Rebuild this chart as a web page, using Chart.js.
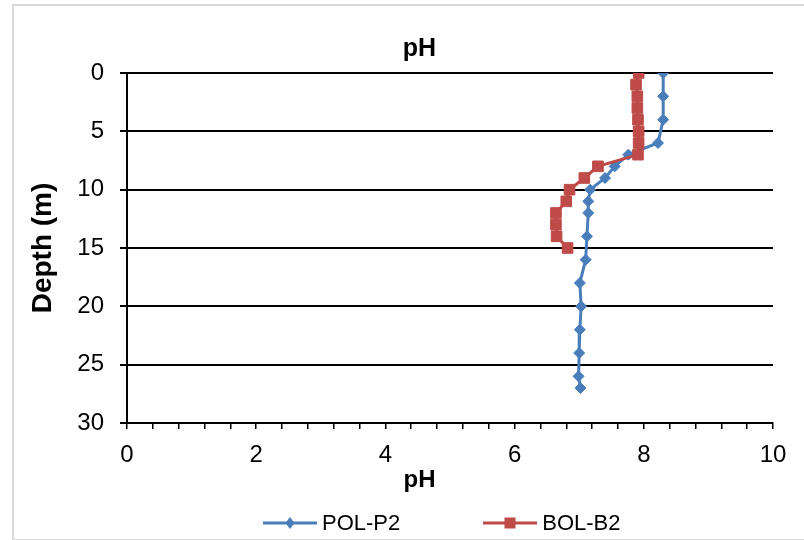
<!DOCTYPE html>
<html lang="en">
<head>
    <meta charset="UTF-8">
    <title>pH profile</title>
    <script src="https://cdn.jsdelivr.net/npm/chart.js@4.4.0/dist/chart.umd.min.js"></script>
    <style>
        html, body {
            margin: 0;
            padding: 0;
            background: #ffffff;
            overflow: hidden;
        }
        body {
            position: relative;
            width: 804px;
            height: 540px;
            font-family: "Liberation Sans", Arial, sans-serif;
        }
        .frame {
            position: absolute;
            left: 12px;
            top: 4px;
            width: 800px;
            height: 533px;
            border: 2px solid #d9d9d9;
        }
        .chart-box {
            position: absolute;
            left: 0;
            top: 0;
            width: 804px;
            height: 540px;
        }
        #legend {
            position: absolute;
            left: 263px;
            top: 511px;
            display: flex;
            align-items: center;
            font-size: 22px;
            line-height: 24px;
            color: #000;
        }
        .legend-item {
            display: flex;
            align-items: center;
            margin-right: 83px;
        }
        .legend-item span {
            margin-left: 5px;
        }
    </style>
</head>
<body>
    <div class="frame"></div>
    <div class="chart-box">
        <canvas id="phChart"></canvas>
    </div>
    <div id="legend"></div>

    <script>
        // POL-P2 profile
        const polDepth = [0, 2, 4, 6, 7, 8, 9, 10, 11, 12, 14, 16, 18, 20, 22, 24, 26, 27];
        const polPH = [8.30, 8.30, 8.30, 8.22, 7.76, 7.55, 7.40, 7.17, 7.14, 7.14, 7.12, 7.10, 7.01, 7.03, 7.01, 7.00, 6.99, 7.02];

        // BOL-B2 profile
        const bolDepth = [0, 1, 2, 3, 4, 5, 6, 7, 8, 9, 10, 11, 12, 13, 14, 15];
        const bolPH = [7.92, 7.88, 7.90, 7.90, 7.91, 7.92, 7.92, 7.91, 7.29, 7.08, 6.85, 6.80, 6.64, 6.64, 6.65, 6.82];

        const seriesNames = ['POL-P2', 'BOL-B2'];
        const seriesColors = ['#4A7EBB', '#BE4B48'];
        const xLabels = [0, 2, 4, 6, 8, 10];
        const depthLabels = [0, 5, 10, 15, 20, 25, 30];

        const toPoints = (xs, ys) => xs.map((v, i) => ({ x: v, y: ys[i] }));

        Chart.defaults.font.family = '"Liberation Sans", Arial, sans-serif';
        Chart.defaults.color = '#000';

        const phChart = new Chart(document.getElementById('phChart'), {
            type: 'scatter',
            data: {
                datasets: [
                    {
                        label: seriesNames[0],
                        data: toPoints(polPH, polDepth),
                        showLine: true,
                        borderColor: seriesColors[0],
                        backgroundColor: seriesColors[0],
                        borderWidth: 3,
                        pointStyle: 'rectRot',
                        pointRadius: 5.5,
                        pointBorderWidth: 1,
                        order: 1
                    },
                    {
                        label: seriesNames[1],
                        data: toPoints(bolPH, bolDepth),
                        showLine: true,
                        borderColor: seriesColors[1],
                        backgroundColor: seriesColors[1],
                        borderWidth: 3,
                        pointStyle: 'rect',
                        pointRadius: 7.5,
                        pointBorderWidth: 1,
                        order: 0
                    }
                ]
            },
            options: {
                responsive: true,
                maintainAspectRatio: false,
                animation: false,
                layout: { padding: { left: 66, right: 31, top: 4, bottom: 0 } },
                plugins: {
                    legend: { display: false },
                    tooltip: { enabled: false },
                    title: {
                        display: true,
                        text: 'pH',
                        color: '#000',
                        font: { size: 25, weight: 'bold' },
                        padding: { top: 30, bottom: 9 }
                    },
                    // x axis caption, placed under the tick labels
                    subtitle: {
                        display: true,
                        position: 'bottom',
                        text: 'pH',
                        color: '#000',
                        font: { size: 24, weight: 'bold' },
                        padding: { top: 0, bottom: 45.6 }
                    }
                },
                scales: {
                    x: {
                        type: 'linear',
                        min: 0,
                        max: 10,
                        ticks: {
                            stepSize: 0.4,
                            autoSkip: false,
                            maxRotation: 0,
                            padding: 12,
                            font: { size: 24 },
                            callback: (v) => {
                                const r = Math.round(v * 10) / 10;
                                return xLabels.includes(r) ? String(r) : '';
                            }
                        },
                        grid: { drawOnChartArea: false, color: '#000', lineWidth: 1.5, tickLength: 6 },
                        border: { color: '#000', width: 2 },
                        afterFit: (s) => { s.height = 42.6; }
                    },
                    y: {
                        type: 'linear',
                        reverse: true,
                        min: 0,
                        max: 30,
                        ticks: {
                            stepSize: 5,
                            padding: 16,
                            font: { size: 24 },
                            callback: (v) => depthLabels.includes(v) ? String(v) : ''
                        },
                        grid: { color: '#000', lineWidth: 2, tickLength: 7 },
                        border: { color: '#000', width: 2 },
                        title: {
                            display: true,
                            text: 'Depth (m)',
                            font: { size: 28, weight: 'bold' },
                            padding: { top: -39.3, bottom: 0 }
                        },
                        afterFit: (s) => { s.width = 61; }
                    }
                }
            }
        });

        // html legend: line with marker, then the series name
        const legendEl = document.getElementById('legend');
        phChart.data.datasets.forEach((ds) => {
            const item = document.createElement('div');
            item.className = 'legend-item';
            const c = document.createElement('canvas');
            c.width = 54;
            c.height = 16;
            const ctx = c.getContext('2d');
            ctx.strokeStyle = ds.borderColor;
            ctx.fillStyle = ds.backgroundColor;
            ctx.lineWidth = 3;
            ctx.beginPath();
            ctx.moveTo(0, 8);
            ctx.lineTo(54, 8);
            ctx.stroke();
            ctx.beginPath();
            if (ds.pointStyle === 'rectRot') {
                ctx.moveTo(27, 2);
                ctx.lineTo(31.5, 8);
                ctx.lineTo(27, 14);
                ctx.lineTo(22.5, 8);
            } else {
                ctx.rect(21.5, 2.5, 11, 11);
            }
            ctx.closePath();
            ctx.fill();
            const label = document.createElement('span');
            label.textContent = ds.label;
            item.appendChild(c);
            item.appendChild(label);
            legendEl.appendChild(item);
        });
    </script>
</body>
</html>
